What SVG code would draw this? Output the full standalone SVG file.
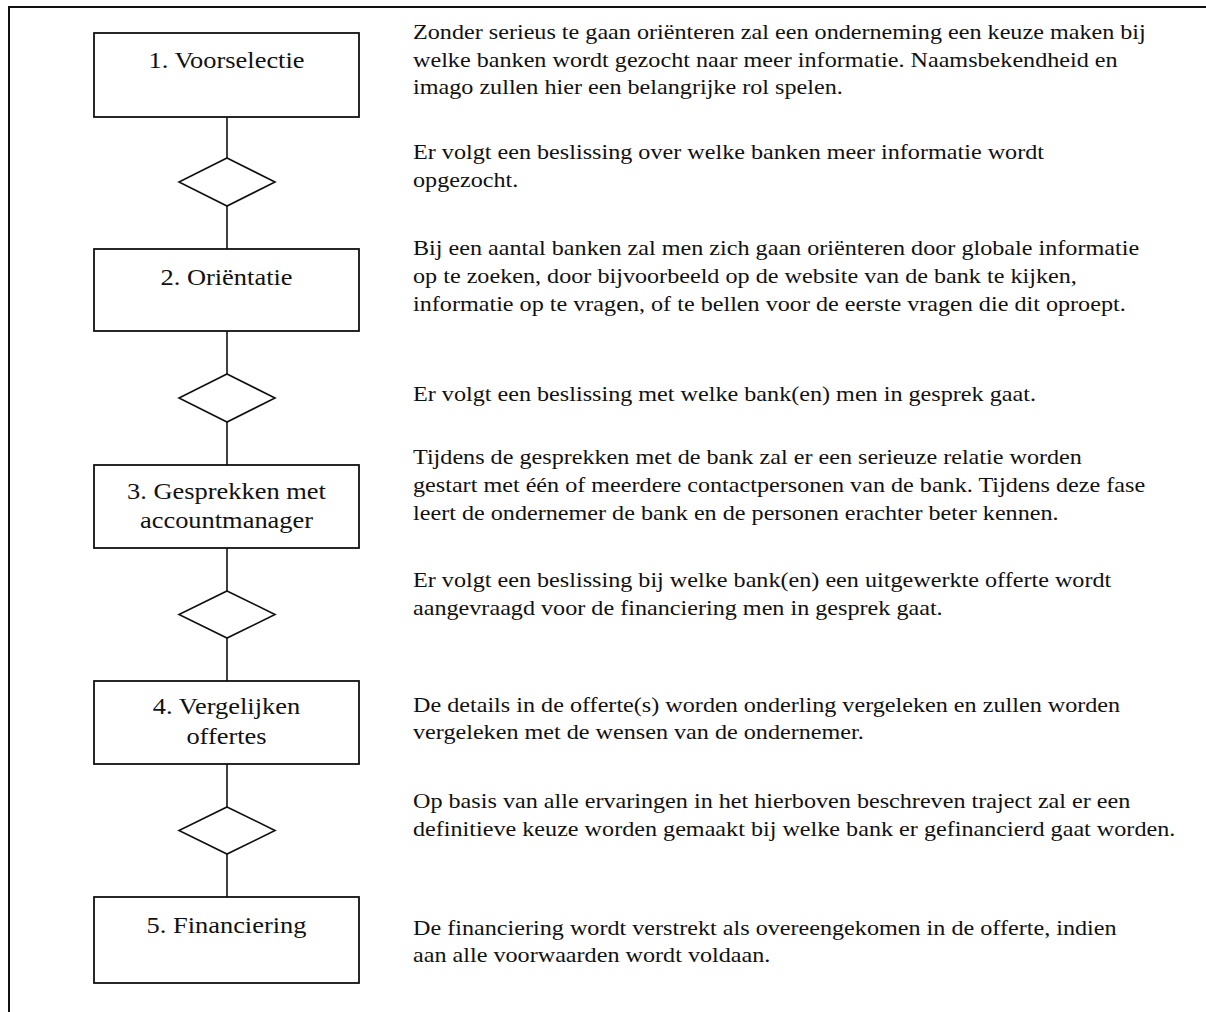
<svg xmlns="http://www.w3.org/2000/svg" width="1206" height="1012" viewBox="0 0 1206 1012">
  <style>
    .frame { stroke: #111; stroke-width: 2; fill: none; }
    .box { fill: #fff; stroke: #111; stroke-width: 1.8; }
    .dec { fill: #fff; stroke: #111; stroke-width: 1.6; }
    .link { stroke: #111; stroke-width: 1.6; fill: none; }
    .lbl { font-family: "Liberation Serif", "Times New Roman", serif; font-size: 23.5px; fill: #111; text-anchor: middle; }
    .body { font-family: "Liberation Serif", "Times New Roman", serif; font-size: 21.8px; fill: #111; }
  </style>
  <rect width="1206" height="1012" fill="#fff"/>

  <!-- page frame -->
  <g id="frame">
    <line class="frame" x1="9" y1="7" x2="1206" y2="7"/>
    <line class="frame" x1="9" y1="6" x2="9" y2="1012"/>
  </g>

  <!-- vertical connectors between steps and decisions -->
  <g id="connectors">
    <line class="link" x1="227" y1="117" x2="227" y2="158"/>
    <line class="link" x1="227" y1="206" x2="227" y2="249"/>
    <line class="link" x1="227" y1="331" x2="227" y2="374"/>
    <line class="link" x1="227" y1="422" x2="227" y2="465"/>
    <line class="link" x1="227" y1="548" x2="227" y2="591"/>
    <line class="link" x1="227" y1="638" x2="227" y2="681"/>
    <line class="link" x1="227" y1="764" x2="227" y2="807"/>
    <line class="link" x1="227" y1="854" x2="227" y2="897"/>
  </g>

  <!-- process steps -->
  <g id="step1">
    <rect class="box" x="94" y="33" width="265" height="84"/>
    <text class="lbl" transform="translate(226.5,68) scale(1.125,1)">1. Voorselectie</text>
  </g>
  <g id="step2">
    <rect class="box" x="94" y="249" width="265" height="82"/>
    <text class="lbl" transform="translate(226.5,285) scale(1.125,1)">2. Oriëntatie</text>
  </g>
  <g id="step3">
    <rect class="box" x="94" y="465" width="265" height="83"/>
    <text class="lbl" transform="translate(226.5,499) scale(1.125,1)">3. Gesprekken met</text>
    <text class="lbl" transform="translate(226.5,528) scale(1.125,1)">accountmanager</text>
  </g>
  <g id="step4">
    <rect class="box" x="94" y="681" width="265" height="83"/>
    <text class="lbl" transform="translate(226.5,714) scale(1.125,1)">4. Vergelijken</text>
    <text class="lbl" transform="translate(226.5,744) scale(1.125,1)">offertes</text>
  </g>
  <g id="step5">
    <rect class="box" x="94" y="897" width="265" height="86"/>
    <text class="lbl" transform="translate(226.5,933) scale(1.125,1)">5. Financiering</text>
  </g>

  <!-- decision points -->
  <g id="decision1"><polygon class="dec" points="227,158 275,182 227,206 179,182"/></g>
  <g id="decision2"><polygon class="dec" points="227,374 275,398 227,422 179,398"/></g>
  <g id="decision3"><polygon class="dec" points="227,591 275,614.5 227,638 179,614.5"/></g>
  <g id="decision4"><polygon class="dec" points="227,807 275,830.5 227,854 179,830.5"/></g>

  <!-- explanations beside the flow -->
  <g id="notes" transform="translate(413,0) scale(1.108,1)">
    <text class="body">
      <tspan x="0" y="39.5">Zonder serieus te gaan oriënteren zal een onderneming een keuze maken bij</tspan>
      <tspan x="0" y="67">welke banken wordt gezocht naar meer informatie. Naamsbekendheid en</tspan>
      <tspan x="0" y="94.5">imago zullen hier een belangrijke rol spelen.</tspan>
    </text>
    <text class="body">
      <tspan x="0" y="159">Er volgt een beslissing over welke banken meer informatie wordt</tspan>
      <tspan x="0" y="187">opgezocht.</tspan>
    </text>
    <text class="body">
      <tspan x="0" y="255">Bij een aantal banken zal men zich gaan oriënteren door globale informatie</tspan>
      <tspan x="0" y="283">op te zoeken, door bijvoorbeeld op de website van de bank te kijken,</tspan>
      <tspan x="0" y="311">informatie op te vragen, of te bellen voor de eerste vragen die dit oproept.</tspan>
    </text>
    <text class="body">
      <tspan x="0" y="401">Er volgt een beslissing met welke bank(en) men in gesprek gaat.</tspan>
    </text>
    <text class="body">
      <tspan x="0" y="464">Tijdens de gesprekken met de bank zal er een serieuze relatie worden</tspan>
      <tspan x="0" y="492">gestart met één of meerdere contactpersonen van de bank. Tijdens deze fase</tspan>
      <tspan x="0" y="520">leert de ondernemer de bank en de personen erachter beter kennen.</tspan>
    </text>
    <text class="body">
      <tspan x="0" y="587">Er volgt een beslissing bij welke bank(en) een uitgewerkte offerte wordt</tspan>
      <tspan x="0" y="615">aangevraagd voor de financiering men in gesprek gaat.</tspan>
    </text>
    <text class="body">
      <tspan x="0" y="712">De details in de offerte(s) worden onderling vergeleken en zullen worden</tspan>
      <tspan x="0" y="739">vergeleken met de wensen van de ondernemer.</tspan>
    </text>
    <text class="body">
      <tspan x="0" y="808">Op basis van alle ervaringen in het hierboven beschreven traject zal er een</tspan>
      <tspan x="0" y="836">definitieve keuze worden gemaakt bij welke bank er gefinancierd gaat worden.</tspan>
    </text>
    <text class="body">
      <tspan x="0" y="935">De financiering wordt verstrekt als overeengekomen in de offerte, indien</tspan>
      <tspan x="0" y="962">aan alle voorwaarden wordt voldaan.</tspan>
    </text>
  </g>
</svg>
